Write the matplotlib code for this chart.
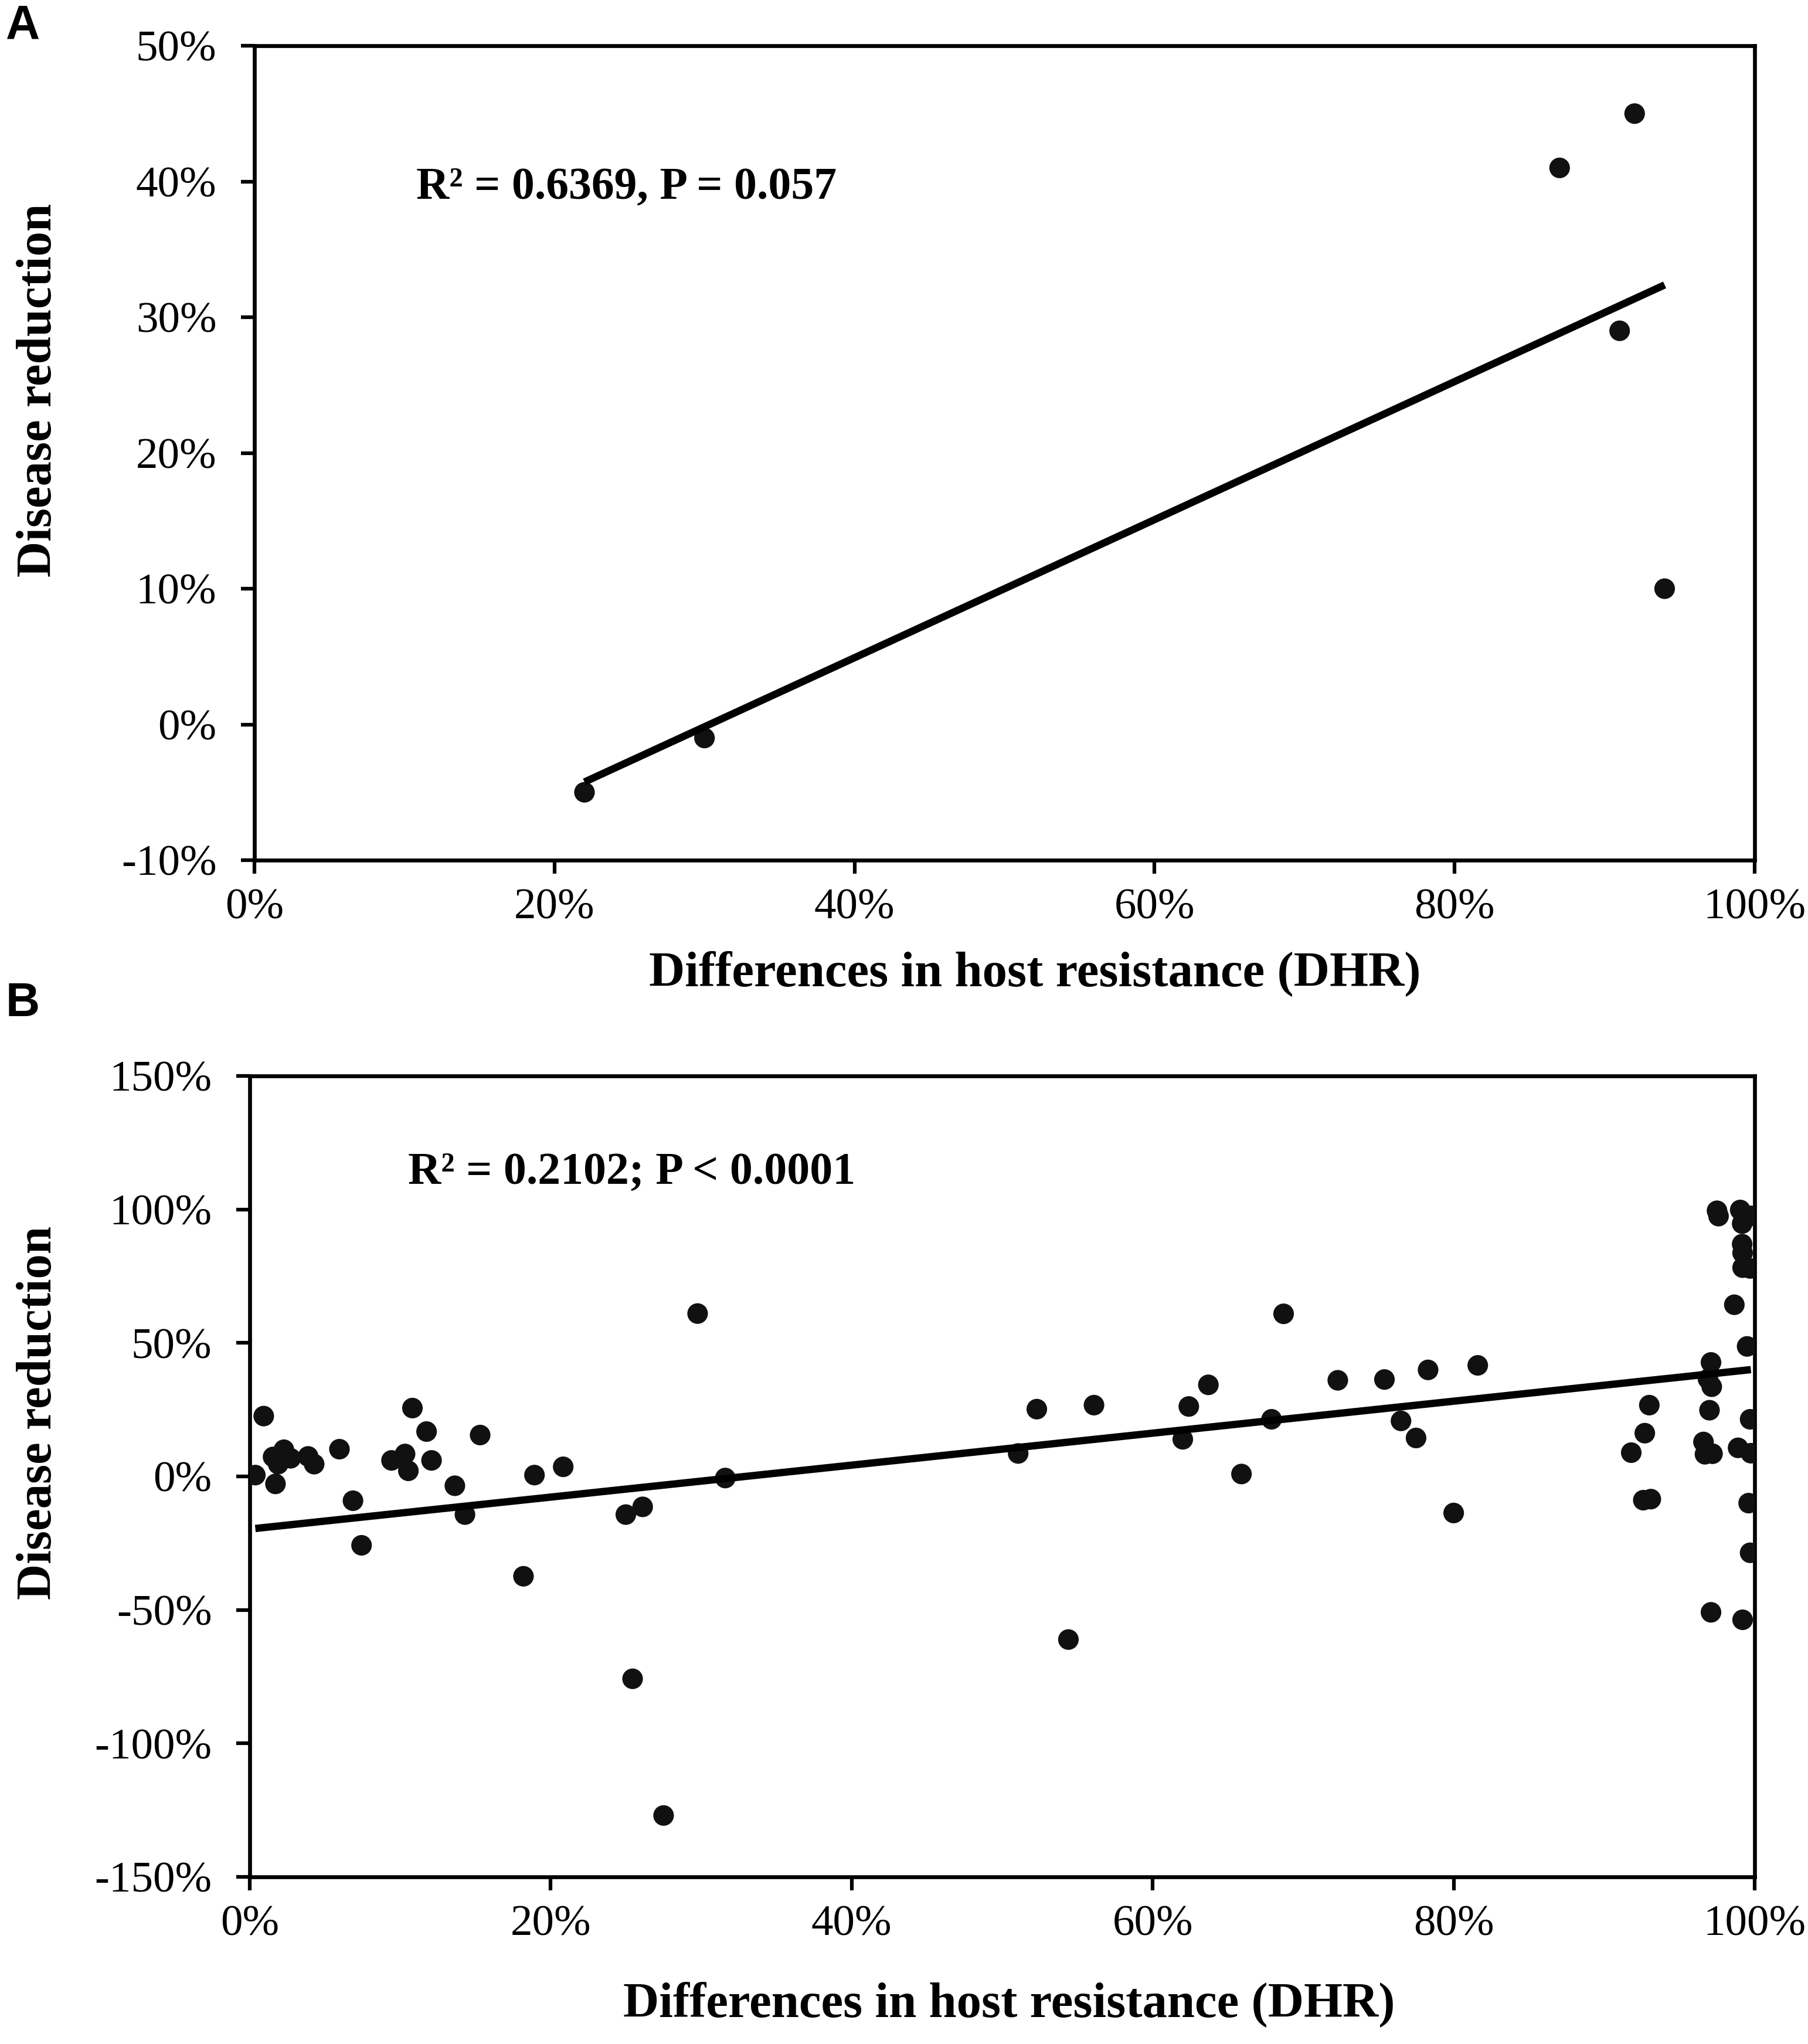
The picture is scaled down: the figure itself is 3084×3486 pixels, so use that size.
import numpy as np
import matplotlib
matplotlib.use("Agg")
import matplotlib.pyplot as plt

plt.rcParams['axes.unicode_minus'] = False

# ---------------- data ----------------
a_dhr = [22, 30, 87, 91, 92, 94]
a_reduction = [-5, -1, 41, 29, 45, 10]
a_trend = [0.5086, -15.43]   # slope, intercept of the drawn trend line

b_dhr = [0.37, 0.93, 1.55, 1.89, 1.71, 2.27, 2.72, 3.88, 4.28, 5.96, 6.86, 7.43,
         9.42, 10.32, 10.54, 10.81, 11.75, 12.08, 13.63, 14.3, 15.31, 18.19, 18.92,
         20.83, 24.99, 25.44, 26.11, 27.5, 29.76, 31.6,
         51.06, 52.3, 54.4, 56.1, 62.0, 62.4, 63.7, 65.9, 67.9, 68.7, 72.3, 75.4,
         76.5, 77.5, 78.3, 80.0, 81.6,
         91.8, 92.6, 92.7, 93.0, 93.1, 96.6, 96.7, 97.0, 97.1, 97.1, 96.9, 97.15,
         97.2, 97.5, 97.6, 98.65, 98.9, 99.04, 99.17, 99.17, 99.2, 99.2, 99.2, 99.5,
         99.6, 99.7, 99.7, 99.7, 99.75, 99.75]
b_reduction = [0.5, 22.6, 7.3, 4.6, -2.8, 10.0, 6.8, 7.5, 4.6, 10.2, -9.1, -25.8,
               6.0, 8.4, 2.1, 25.6, 16.8, 6.0, -3.5, -14.3, 15.5, -37.4, 0.5,
               3.6, -14.3, -75.8, -11.4, -127, 61.0, -0.6,
               8.6, 25.2, -61.1, 26.7, 13.9, 26.2, 34.3, 0.9, 21.4, 60.9, 36.0, 36.3,
               20.8, 14.4, 39.9, -13.7, 41.6,
               8.9, -8.9, 16.2, 26.7, -8.5, 12.9, 8.3, 24.8, 42.7, -50.9, 36.5, 33.6,
               8.5, 99.5, 97.5, 64.3, 10.7, 99.8, 94.7, 87.0, 83.7, 78.2, -53.7, 48.7,
               -10.0, 21.4, 77.9, -28.6, 97.6, 8.7]
b_trend = [0.5987, -19.72]   # slope, intercept of the drawn trend line

a_xticks = [0, 20, 40, 60, 80, 100]
a_xticklabels = ['0%', '20%', '40%', '60%', '80%', '100%']
a_yticks = [-10, 0, 10, 20, 30, 40, 50]
a_yticklabels = ['-10%', '0%', '10%', '20%', '30%', '40%', '50%']
b_xticks = [0, 20, 40, 60, 80, 100]
b_xticklabels = ['0%', '20%', '40%', '60%', '80%', '100%']
b_yticks = [-150, -100, -50, 0, 50, 100, 150]
b_yticklabels = ['-150%', '-100%', '-50%', '0%', '50%', '100%', '150%']

a_stats = 'R² = 0.6369, P = 0.057'
b_stats = 'R² = 0.2102; P < 0.0001'
xlabel = 'Differences in host resistance (DHR)'
ylabel = 'Disease reduction'

# ---------------- figure ----------------
W, H = 3084, 3486
fig = plt.figure(figsize=(W / 100, H / 100), dpi=100)

serif = ['Liberation Serif', 'DejaVu Serif']
sans = ['Liberation Sans', 'DejaVu Sans']

def px_axes(l, r, t, b):
    return fig.add_axes([l / W, 1 - b / H, (r - l) / W, (b - t) / H])

axA = px_axes(434, 2993, 78, 1467)
axB = px_axes(426, 2993, 1835, 3201)

def style(ax, xt, xtl, yt, ytl, xlim, ylim):
    ax.set_xlim(*xlim)
    ax.set_ylim(*ylim)
    ax.set_xticks(xt)
    ax.set_xticklabels(xtl)
    ax.set_yticks(yt)
    ax.set_yticklabels(ytl)
    for s in ax.spines.values():
        s.set_linewidth(4.8)
        s.set_color('black')
    ax.tick_params(axis='both', direction='out', length=16.5, width=4.5,
                   labelsize=54, colors='black')
    ax.tick_params(axis='x', pad=18)
    ax.tick_params(axis='y', pad=30)
    for lab in ax.get_xticklabels() + ax.get_yticklabels():
        lab.set_fontfamily(serif)

def draw(ax, x, y, trend):
    x = np.asarray(x, float)
    y = np.asarray(y, float)
    ax.scatter(x, y, s=640, color='#111111', edgecolors='none', zorder=3)
    xs = np.array([x.min(), x.max()])
    ax.plot(xs, trend[0] * xs + trend[1], color='black', lw=9,
            solid_capstyle='butt', zorder=4)

draw(axA, a_dhr, a_reduction, a_trend)
style(axA, a_xticks, a_xticklabels, a_yticks, a_yticklabels, (0, 100), (-10, 50))
draw(axB, b_dhr, b_reduction, b_trend)
style(axB, b_xticks, b_xticklabels, b_yticks, b_yticklabels, (0, 100), (-150, 150))

stat_kw = dict(fontsize=56, fontweight='bold', family=serif, color='black')
axA.text(0.108, 0.826, a_stats, transform=axA.transAxes, ha='left', va='center', **stat_kw)
axB.text(0.105, 0.879, b_stats, transform=axB.transAxes, ha='left', va='center', **stat_kw)

lab_kw = dict(fontsize=61, fontweight='bold', family=serif, color='black')
fig.text(1765 / W, 1 - 1661 / H, xlabel, ha='center', va='center', **lab_kw)
fig.text(1721 / W, 1 - 3419 / H, xlabel, ha='center', va='center', **lab_kw)
fig.text(67 / W, 1 - 666 / H, ylabel, rotation=90, ha='center', va='center', **lab_kw)
fig.text(67 / W, 1 - 2409 / H, ylabel, rotation=90, ha='center', va='center', **lab_kw)

fig.text(10 / W, 1 - 45 / H, 'A', ha='left', va='center', fontsize=58,
         fontweight='bold', family=sans)
fig.text(10 / W, 1 - 1712 / H, 'B', ha='left', va='center', fontsize=58,
         fontweight='bold', family=sans)

fig.savefig('out.png', dpi=100, facecolor='white')
